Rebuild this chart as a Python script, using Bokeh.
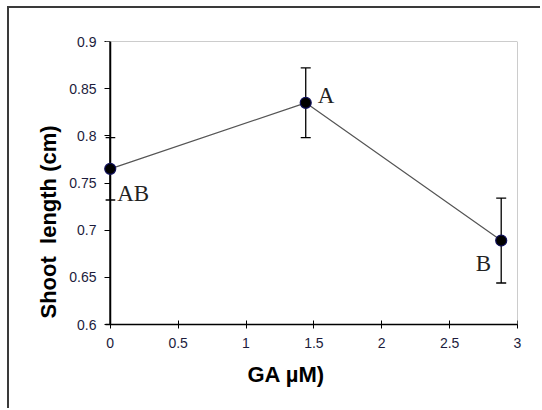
from bokeh.plotting import figure
from bokeh.models import Range1d, ColumnDataSource, Whisker, FixedTicker, Span, Title
from bokeh.embed import file_html
from bokeh.resources import INLINE

ga = [0.0, 1.44, 2.88]
shoot = [0.765, 0.835, 0.689]
err = [0.033, 0.037, 0.045]
letters = ["AB", "A", "B"]
x_ticks = [0, 0.5, 1, 1.5, 2, 2.5, 3]
y_ticks = [0.6, 0.65, 0.7, 0.75, 0.8, 0.85, 0.9]
x_label = "GA \u00b5M)"
y_label = "Shoot\u00a0 length (cm)"

# label placement (pixels)
lab_dx = [7, 12, -10]
lab_dy = [25, -7, 23]
lab_align = ["left", "left", "right"]

src = ColumnDataSource(dict(
    x=ga, y=shoot,
    lo=[s - e for s, e in zip(shoot, err)],
    hi=[s + e for s, e in zip(shoot, err)],
    t=letters, dx=lab_dx, dy=lab_dy, al=lab_align,
))

p = figure(width=533, height=402, output_backend="svg", toolbar_location=None,
           x_range=Range1d(-0.035, 3), y_range=Range1d(0.6, 0.9),
           min_border_left=96, min_border_right=25,
           min_border_top=33, min_border_bottom=86)
p.styles = {"margin-left": "7px", "margin-top": "6px",
            "border-top": "2px solid #3a3a3a", "border-left": "2px solid #3a3a3a"}

p.xgrid.visible = False
p.ygrid.visible = False
p.outline_line_color = None

p.add_layout(Span(location=0.9, dimension="width", line_color="#9a9a9a", line_width=1))
p.add_layout(Span(location=3, dimension="height", line_color="#9a9a9a", line_width=1))

p.line("x", "y", source=src, line_color="#555555", line_width=1.2)
w = Whisker(source=src, base="x", lower="lo", upper="hi",
            line_color="black", line_width=1.3)
w.upper_head.size = 10
w.lower_head.size = 10
w.upper_head.line_width = 1.3
w.lower_head.line_width = 1.3
p.add_layout(w)
p.add_layout(Span(location=0, dimension="height", line_color="black", line_width=2))
p.scatter("x", "y", source=src, size=11, fill_color="black",
          line_color="#10105a", line_width=1.2, level="overlay")
p.text("x", "y", text="t", source=src, x_offset="dx", y_offset="dy",
       text_align="al", text_baseline="alphabetic",
       text_font={"value": "Liberation Serif"}, text_font_size="23px",
       text_color="#222222")

for ax in (p.xaxis, p.yaxis):
    ax.major_label_text_font = "Liberation Sans"
    ax.major_label_text_font_size = "14px"
    ax.major_label_text_color = "#1c1c3c"
    ax.major_tick_line_color = "black"
    ax.minor_tick_line_color = None

p.xaxis.ticker = FixedTicker(ticks=x_ticks)
p.yaxis.ticker = FixedTicker(ticks=y_ticks)
p.xaxis.major_label_overrides = {0: "0", 1: "1", 2: "2", 3: "3"}
p.yaxis.major_label_overrides = {0.6: "0.6", 0.7: "0.7", 0.8: "0.8", 0.9: "0.9"}
p.xaxis.axis_line_color = "black"
p.xaxis.axis_line_width = 1.5
p.yaxis.axis_line_color = None
p.xaxis.major_tick_in = 4
p.xaxis.major_tick_out = 4
p.yaxis.major_tick_in = 5
p.yaxis.major_tick_out = 1
p.xaxis.major_label_standoff = 9
p.yaxis.major_label_standoff = 8

tx = Title(text=x_label, align="left", offset=142, standoff=18,
           text_font="Liberation Sans", text_font_style="bold",
           text_font_size="22px", text_color="black")
p.add_layout(tx, "below")
ty = Title(text=y_label, align="left", offset=6, standoff=11,
           text_font="Liberation Sans", text_font_style="bold",
           text_font_size="22px", text_color="black")
p.add_layout(ty, "left")

open("out.html", "w").write(file_html(p, INLINE))
